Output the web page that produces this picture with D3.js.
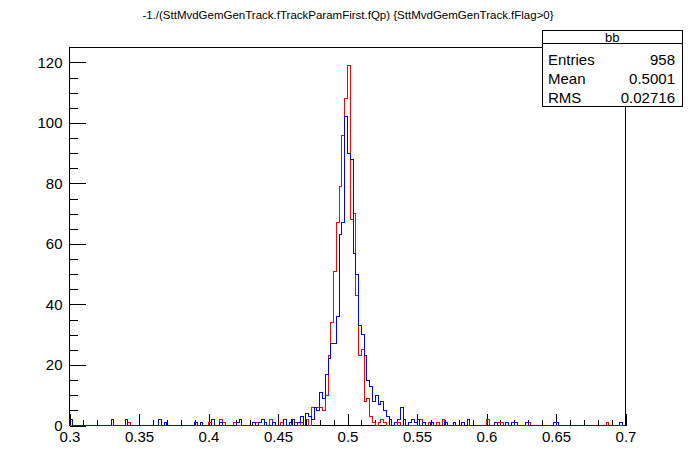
<!DOCTYPE html>
<html>
<head>
<meta charset="utf-8">
<script src="https://cdn.jsdelivr.net/npm/d3@7"></script>
<style>
  body { margin: 0; background: #fff; }
  svg { font-family: "Liberation Sans", Arial, Helvetica, sans-serif; }
</style>
</head>
<body>
<div id="svgWrapper"></div>
<script>
var fullWidth = 696;
var fullHeight = 472;

var GraphTitle = "-1./(SttMvdGemGenTrack.fTrackParamFirst.fQp) {SttMvdGemGenTrack.fFlag>0}";

// histogram binning
var xMin = 0.3, xMax = 0.7, nBins = 200;

// red histogram, counts per bin (20 bins per row)
var redCounts = [
  0,0,0,0,0,0,0,0,0,0, 0,0,0,0,0,0,0,0,0,0,
  0,1,0,0,0,0,0,0,0,0, 0,0,0,0,0,0,0,0,0,0,
  0,0,0,0,0,0,0,0,0,0, 1,0,0,0,2,1,0,0,0,1,
  0,0,0,0,0,0,0,1,0,0, 0,0,2,0,0,0,1,0,0,1,
  0,1,0,1,0,2,0,6,6,6, 6,5,10,23,34,51,67,79,96,108,
  119,68,70,43,23,25,8,9,3,1, 0,1,2,1,0,0,0,0,1,0,
  0,0,0,0,0,0,2,0,0,1, 0,0,1,0,2,0,0,0,0,0,
  0,0,0,0,0,0,0,0,0,0, 2,0,0,0,1,1,0,0,0,0,
  0,0,0,0,0,1,0,0,0,0, 0,0,0,0,0,0,0,0,0,0,
  0,0,0,0,0,0,0,0,0,0, 0,0,0,1,0,0,0,0,0,0
];

// blue histogram, counts per bin
var blueCounts = [
  2,0,0,0,0,0,0,0,0,0, 0,0,0,0,0,2,0,0,0,0,
  2,0,0,0,0,0,0,0,0,0, 0,0,2,0,1,0,0,0,0,0,
  0,0,0,0,0,1,0,1,0,0, 0,2,0,0,1,0,0,0,0,0,
  1,2,0,0,0,0,1,0,1,2, 1,0,0,1,0,0,0,2,0,1,
  2,0,1,3,0,4,3,2,6,5, 11,9,17,22,27,27,36,63,67,102,
  90,88,57,50,33,30,23,15,13,8, 10,7,8,5,3,2,0,1,2,6,
  2,0,1,2,1,2,0,1,0,0, 1,0,0,0,0,1,0,0,1,0,
  0,1,0,2,0,0,0,0,0,0, 0,0,0,1,0,0,0,1,0,1,
  1,0,0,0,1,0,0,0,0,0, 0,0,0,0,1,1,0,0,0,0,
  0,0,0,0,0,0,0,0,0,0, 0,0,0,0,0,0,0,0,1,0
];

var yMax = 124.95; // 1.05 * highest bin

var xTickValues = [0.3, 0.35, 0.4, 0.45, 0.5, 0.55, 0.6, 0.65, 0.7];
var xTickLabels = ["0.3", "0.35", "0.4", "0.45", "0.5", "0.55", "0.6", "0.65", "0.7"];
var yTickValues = [0, 20, 40, 60, 80, 100, 120];
var yTickLabels = ["0", "20", "40", "60", "80", "100", "120"];

// stats box
var statsName = "bb";
var statsLabels = ["Entries", "Mean", "RMS"];
var statsValues = ["958", "0.5001", "0.02716"];

// frame
var frameLeft = 69.5, frameRight = 625.5, frameTop = 47.5, frameBottom = 425.5;

var svg = d3.select("#svgWrapper")
  .append("svg")
  .attr("width", fullWidth)
  .attr("height", fullHeight);

var xScale = d3.scaleLinear().domain([xMin, xMax]).range([frameLeft, frameRight]);
var yScale = d3.scaleLinear().domain([0, yMax]).range([frameBottom, frameTop]);

// frame box
svg.append("rect")
  .attr("x", frameLeft).attr("y", frameTop)
  .attr("width", frameRight - frameLeft).attr("height", frameBottom - frameTop)
  .attr("fill", "none").attr("stroke", "black").attr("stroke-width", 1);

// y axis: major + minor ticks pointing into the frame
var yMinor = d3.range(0, 121, 5);
svg.append("g")
  .attr("transform", "translate(" + frameLeft + ",0)")
  .call(d3.axisLeft(yScale).tickValues(yMinor).tickFormat("").tickSizeInner(-8.3).tickSizeOuter(0))
  .call(g => g.select(".domain").remove());
svg.append("g")
  .attr("transform", "translate(" + frameLeft + ",0)")
  .call(d3.axisLeft(yScale).tickValues(yTickValues)
    .tickFormat((d, i) => yTickLabels[i]).tickSizeInner(-16.7).tickSizeOuter(0).tickPadding(7))
  .call(g => g.select(".domain").remove())
  .selectAll("text").style("font-size", "15px").style("font-family", "Liberation Sans, Arial, sans-serif");

// x axis
var xMinor = d3.range(30, 71, 1).map(d => d / 100);
svg.append("g")
  .attr("transform", "translate(0," + frameBottom + ")")
  .call(d3.axisBottom(xScale).tickValues(xMinor).tickFormat("").tickSizeInner(-5.7).tickSizeOuter(0))
  .call(g => g.select(".domain").remove());
svg.append("g")
  .attr("transform", "translate(0," + frameBottom + ")")
  .call(d3.axisBottom(xScale).tickValues(xTickValues)
    .tickFormat((d, i) => xTickLabels[i]).tickSizeInner(-11.4).tickSizeOuter(0).tickPadding(6))
  .call(g => g.select(".domain").remove())
  .selectAll("text").style("font-size", "15px").style("font-family", "Liberation Sans, Arial, sans-serif");

svg.selectAll(".tick line").attr("shape-rendering", "crispEdges");

// histogram outline as a step path
var binWidth = (xMax - xMin) / nBins;
function histPoints(counts) {
  var pts = [[xMin, 0]];
  counts.forEach(function(c, i) {
    pts.push([xMin + i * binWidth, c]);
    pts.push([xMin + (i + 1) * binWidth, c]);
  });
  pts.push([xMax, 0]);
  return pts;
}

var histLine = d3.line()
  .x(d => xScale(d[0]))
  .y(d => yScale(d[1]));

svg.append("path")
  .attr("d", histLine(histPoints(redCounts)))
  .attr("fill", "none").attr("stroke", "#ff0000").attr("stroke-width", 1)
  .attr("shape-rendering", "crispEdges");

svg.append("path")
  .attr("d", histLine(histPoints(blueCounts)))
  .attr("fill", "none").attr("stroke", "#0000ff").attr("stroke-width", 1)
  .attr("shape-rendering", "crispEdges");

// title
svg.append("text")
  .attr("x", 348).attr("y", 19)
  .style("text-anchor", "middle")
  .style("font-size", "11.5px")
  .style("fill", "black")
  .text(GraphTitle);

// stats box
var sx = 542.5, sy = 30.5, sw = 139.5, sh = 75.5;
var stats = svg.append("g").attr("shape-rendering", "crispEdges");
stats.append("rect").attr("x", sx).attr("y", sy).attr("width", sw).attr("height", sh)
  .attr("fill", "white").attr("stroke", "black");
stats.append("line").attr("x1", sx).attr("x2", sx + sw).attr("y1", 43.5).attr("y2", 43.5)
  .attr("stroke", "black");
stats.append("text")
  .attr("x", sx + sw / 2).attr("y", 42)
  .style("text-anchor", "middle").style("font-size", "13px")
  .text(statsName);
for (var p = 0; p < statsLabels.length; p++) {
  var by = 64.5 + 19 * p;
  stats.append("text").attr("x", 548).attr("y", by)
    .style("font-size", "15px").text(statsLabels[p]);
  stats.append("text").attr("x", 675).attr("y", by)
    .style("text-anchor", "end").style("font-size", "15px").text(statsValues[p]);
}
</script>
</body>
</html>
